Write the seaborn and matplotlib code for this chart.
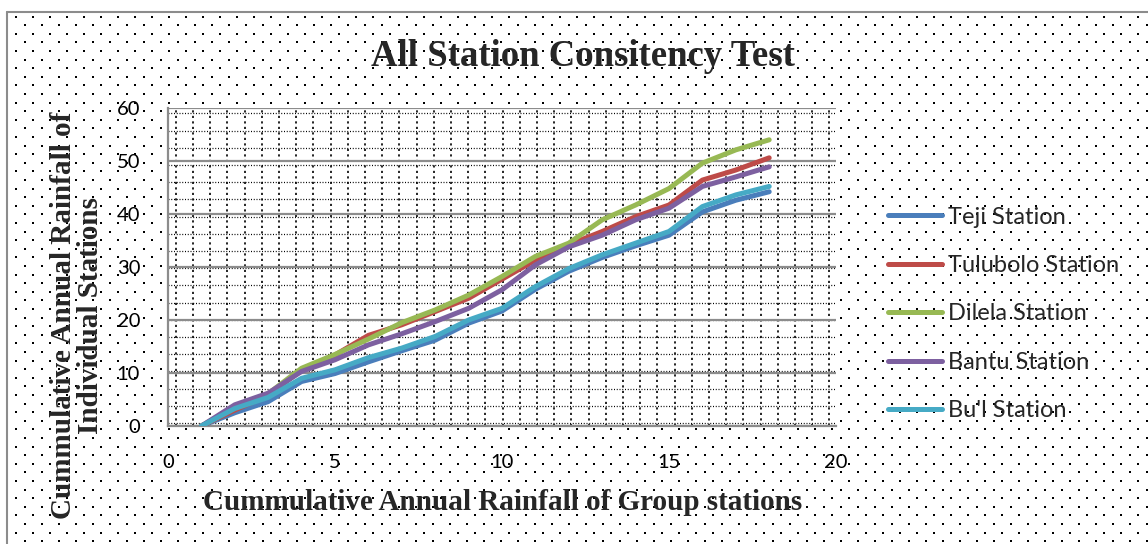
import numpy as np
import pandas as pd
import matplotlib
matplotlib.use("Agg")
import matplotlib.pyplot as plt
import seaborn as sns

# ---------------- data ----------------
x_group = [1, 2, 3, 4, 5, 6, 7, 8, 9, 10, 11, 12, 13, 14, 15, 16, 17, 18]
teji = [0, 2.5, 4.6, 8.4, 9.9, 12.1, 14.2, 16.2, 19.4, 21.7, 25.8, 29.2, 31.8, 34.0, 36.0, 40.4, 42.6, 44.2]
tulubolo = [0, 3.0, 5.8, 10.6, 13.4, 17.1, 19.1, 21.6, 24.1, 27.7, 31.3, 34.2, 36.7, 39.5, 41.7, 46.4, 48.3, 50.6]
dilela = [0, 3.5, 6.1, 10.9, 13.5, 16.4, 19.5, 21.9, 24.7, 28.2, 32.0, 34.5, 38.9, 41.7, 44.8, 49.6, 52.1, 54.0]
bantu = [0, 4.0, 6.2, 10.3, 12.5, 15.3, 17.4, 19.7, 22.2, 25.7, 30.4, 33.8, 36.0, 38.9, 41.1, 45.2, 47.0, 48.9]
bul = [0, 3.3, 5.4, 9.0, 10.6, 12.9, 14.7, 16.9, 20.0, 22.2, 26.3, 29.7, 32.3, 34.5, 36.7, 41.4, 43.6, 45.2]

station_names = ["Teji Station", "Tulubolo Station", "Dilela Station", "Bantu Station", "Bu'l Station"]
station_values = [teji, tulubolo, dilela, bantu, bul]
station_colors = ["#4A7EBB", "#BE4B48", "#98B954", "#7D60A0", "#46AAC5"]

x_ticks = [0, 5, 10, 15, 20]
y_ticks = [0, 10, 20, 30, 40, 50, 60]

title_text = "All Station Consitency Test"
xlabel_text = "Cummulative Annual Rainfall of Group stations"
ylabel_text = "Cummulative Annual Rainfall of\nIndividual Stations"

df = pd.DataFrame({
    "x": np.tile(x_group, len(station_names)),
    "value": np.concatenate(station_values),
    "station": np.repeat(station_names, len(x_group)),
})

# ---------------- figure ----------------
sns.set_style("white")
plt.rcParams["font.family"] = ["Lato", "DejaVu Sans"]

W, H = 1148, 544
fig = plt.figure(figsize=(W / 100, H / 100), dpi=100)
fig.patch.set_facecolor("white")

# background dotted pattern of the chart area
bg = fig.add_axes([0, 0, 1, 1], zorder=-10)
bg.set_xlim(0, W)
bg.set_ylim(H, 0)
bg.axis("off")
rows = np.arange(16.7, H, 8.6)
pts_x, pts_y = [], []
for i, ry in enumerate(rows):
    start = 16 if i % 2 == 0 else 24.5
    xs = np.arange(start, W, 17.0)
    pts_x.append(xs)
    pts_y.append(np.full_like(xs, ry))
bg.scatter(np.concatenate(pts_x), np.concatenate(pts_y), s=2.6, marker="s",
           color="black", linewidths=0)
bg.plot([7, 7], [12, H], color="#8C8C8C", lw=1.5)
bg.plot([7, W], [12, 12], color="#8C8C8C", lw=1.5)

# main plot area
left, right, top, bottom = 168, 836, 108, 426
ax = fig.add_axes([left / W, 1 - bottom / H, (right - left) / W, (bottom - top) / H], zorder=1)
ax.set_facecolor("white")

# dotted pattern inside plot area
pw, ph = right - left, bottom - top
vx = np.arange(7.7, pw, 17.2) / pw
hy = 1 - np.arange(5.3, ph, 17.2) / ph
ax.vlines(vx, 0, 1, transform=ax.transAxes, colors="black",
          linestyles=(0, (1.3, 2.0)), lw=1.2, zorder=0.5)
ax.hlines(hy, 0, 1, transform=ax.transAxes, colors="black",
          linestyles=(0, (0.8, 1.4)), lw=0.9, zorder=0.5)

sns.lineplot(data=df, x="x", y="value", hue="station", hue_order=station_names,
             palette=dict(zip(station_names, station_colors)), sort=False,
             lw=3.6, ax=ax, legend=False, estimator=None)
for ln in ax.lines:
    ln.set_solid_capstyle("round")
    ln.set_solid_joinstyle("round")
    ln.set_zorder(3)

ax.set_xlim(0, 20)
ax.set_ylim(0, 60)
ax.set_xticks(x_ticks)
ax.set_yticks(y_ticks)
ax.set_xlabel("")
ax.set_ylabel("")
ax.grid(axis="y", color="#8C8C8C", lw=1.6, zorder=1)
ax.grid(axis="x", visible=False)
ax.set_axisbelow(True)
for s in ["top", "right"]:
    ax.spines[s].set_visible(False)
for s in ["left", "bottom"]:
    ax.spines[s].set_color("#8C8C8C")
    ax.spines[s].set_linewidth(1.6)
ax.tick_params(axis="both", length=0, labelsize=14.5, colors="black")
ax.tick_params(axis="y", pad=20)
ax.tick_params(axis="x", pad=20)

# texts
serif = ["Liberation Serif", "DejaVu Serif"]
fig.text(582.5 / W, 1 - 56 / H, title_text, ha="center", va="center",
         fontsize=26.5, fontweight="bold", family=serif)
fig.text(502.5 / W, 1 - 502 / H, xlabel_text, ha="center", va="center",
         fontsize=21, fontweight="bold", family=serif)
fig.text(77 / W, 1 - 315 / H, ylabel_text, ha="center", va="center",
         rotation=90, fontsize=21, fontweight="bold", family=serif,
         linespacing=1.0)

# legend
handles = [plt.Line2D([0], [0], color=c, lw=3.6, solid_capstyle="round") for c in station_colors]
fig.legend(handles, station_names, loc="center left",
           bbox_to_anchor=(888 / W, 1 - 314 / H), frameon=False,
           fontsize=17, handlelength=2.3, handletextpad=0.25,
           labelspacing=1.16, borderpad=0, borderaxespad=0)

fig.savefig("out.png", dpi=100)
